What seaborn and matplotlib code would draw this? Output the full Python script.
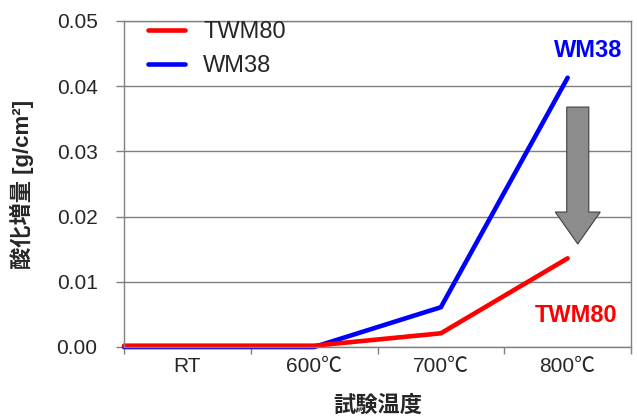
import matplotlib
matplotlib.use("Agg")
import matplotlib.pyplot as plt
import seaborn as sns
import pandas as pd
from matplotlib.patches import FancyArrow
from matplotlib.ticker import FixedLocator
from matplotlib.lines import Line2D

categories = ["RT", "600℃", "700℃", "800℃"]
twm80 = [0.0002, 0.0002, 0.0021, 0.0136]
wm38 = [0.0000, 0.0000, 0.0061, 0.0413]
series_names = ["TWM80", "WM38"]
yticks = [0.00, 0.01, 0.02, 0.03, 0.04, 0.05]

sns.set_theme(style="white")
plt.rcParams['font.family'] = ['Liberation Sans', 'Noto Sans CJK JP', 'DejaVu Sans']

x_left = -0.5  # left edge of the category axis; the lines start there at the RT level
xs = [x_left] + list(range(len(categories)))
df = pd.DataFrame({
    "temp": xs * 2,
    "value": [wm38[0]] + wm38 + [twm80[0]] + twm80,
    "series": ["WM38"] * len(xs) + ["TWM80"] * len(xs),
})

fig = plt.figure(figsize=(6.37, 4.16), dpi=100)
ax = fig.add_axes([124/637, (416-347)/416, (631-124)/637, (347-21)/416])

palette = {"TWM80": "#ff0000", "WM38": "#0000ff"}
sns.lineplot(data=df, x="temp", y="value", hue="series", palette=palette,
             hue_order=["WM38", "TWM80"], linewidth=3.3, ax=ax, legend=False,
             solid_capstyle="round", clip_on=False)

ax.set_xlim(x_left, len(categories) - 0.5)
ax.set_ylim(0, 0.05)
ax.set_yticks(yticks)
ax.set_yticklabels([f"{v:.2f}" for v in yticks], fontsize=15)
ax.set_xticks(range(len(categories)))
ax.set_xticklabels(categories, fontsize=15)
ax.xaxis.set_minor_locator(FixedLocator([x_left + i for i in range(len(categories) + 1)]))
ax.tick_params(axis="x", which="major", length=0, pad=7)
ax.tick_params(axis="x", which="minor", length=5, color="#808080", width=1, direction="out", bottom=True)
ax.tick_params(axis="y", which="major", length=6, color="#808080", width=1, direction="out", left=True, pad=13)
ax.yaxis.grid(True, color="#808080", linewidth=1)
ax.set_axisbelow(True)
for s in ax.spines.values():
    s.set_color("#808080")
    s.set_linewidth(1)

ax.set_xlabel("試験温度", fontsize=16, fontweight="bold",
              family=['Noto Sans CJK JP', 'DejaVu Sans'])
ax.xaxis.set_label_coords(0.5, -(405 - 347) / 326, transform=ax.transAxes)
ax.xaxis.label.set_va("center")
ax.set_ylabel("酸化増量 [g/cm²]", fontsize=16, fontweight="bold",
              family=['Liberation Sans', 'Noto Sans CJK JP', 'DejaVu Sans'])
ax.yaxis.set_label_coords(-(124 - 22) / 507, (347 - 184) / 326, transform=ax.transAxes)
ax.yaxis.label.set_va("center")

handles = [Line2D([0], [0], color=palette[n], linewidth=3.3) for n in series_names]
ax.legend(handles, series_names, loc="upper left", bbox_to_anchor=(24/507, 1.0),
          frameon=False, fontsize=17, handlelength=1.57, handletextpad=0.76,
          labelspacing=0.5, borderaxespad=0.0, borderpad=0.0)

ax.text(3.43, 0.0455, "WM38", color="#0000ff", fontsize=17, fontweight="bold",
        ha="right", va="center")
ax.text(3.39, 0.0049, "TWM80", color="#ff0000", fontsize=17, fontweight="bold",
        ha="right", va="center")

arrow = FancyArrow(3.08, 0.0368, 0, -0.0210, width=0.174, head_width=0.355,
                   head_length=0.0049, length_includes_head=True,
                   facecolor="#8c8c8c", edgecolor="#404040", linewidth=0.8, zorder=5)
ax.add_patch(arrow)

fig.savefig("out.png", dpi=100)
